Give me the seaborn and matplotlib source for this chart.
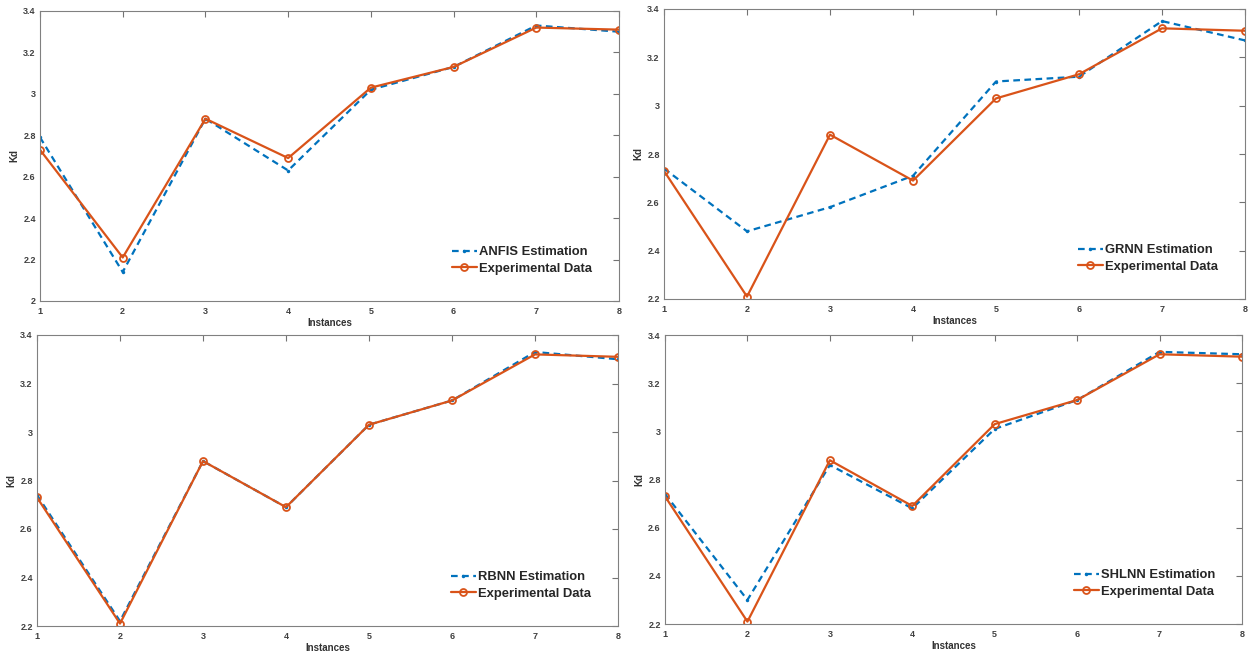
import numpy as np
import pandas as pd
import matplotlib
matplotlib.use("Agg")
import matplotlib.pyplot as plt
import seaborn as sns
from matplotlib.ticker import FuncFormatter

sns.set_style("white")
plt.rcParams['font.family'] = ['Liberation Sans', 'DejaVu Sans']

instances = [1, 2, 3, 4, 5, 6, 7, 8]
experimental = [2.73, 2.21, 2.88, 2.69, 3.03, 3.13, 3.32, 3.31]
anfis = [2.79, 2.14, 2.88, 2.63, 3.02, 3.13, 3.33, 3.30]
grnn = [2.74, 2.48, 2.58, 2.71, 3.10, 3.12, 3.35, 3.27]
rbnn = [2.74, 2.22, 2.88, 2.69, 3.03, 3.13, 3.33, 3.30]
shlnn = [2.74, 2.30, 2.86, 2.68, 3.01, 3.13, 3.33, 3.32]

model_names = ["ANFIS", "GRNN", "RBNN", "SHLNN"]
model_values = [anfis, grnn, rbnn, shlnn]
y_limits = [(2.0, 3.4), (2.2, 3.4), (2.2, 3.4), (2.2, 3.4)]

W, H = 1248, 654
fig = plt.figure(figsize=(W / 100, H / 100), dpi=100)

# pixel boxes (left, top, right, bottom)
boxes = [(40, 11, 619, 301), (664, 9, 1245, 299), (37, 335, 618, 626), (665, 335, 1242, 624)]

blue = "#0072BD"
orange = "#D95319"
fmt = FuncFormatter(lambda v, p: f"{v:g}")

for name, vals, ylim, (l, t, r, b) in zip(model_names, model_values, y_limits, boxes):
    ax = fig.add_axes([l / W, 1 - b / H, (r - l) / W, (b - t) / H])
    sns.lineplot(x=instances, y=vals, ax=ax, color=blue, linestyle=(0, (3, 2)), lw=1.6,
                 marker='.', markersize=5, markeredgewidth=0, label=f"{name} Estimation")
    sns.lineplot(x=instances, y=experimental, ax=ax, color=orange, lw=1.6,
                 marker='o', markersize=5, markerfacecolor='none', markeredgecolor=orange,
                 markeredgewidth=1.3, label="Experimental Data")
    ax.set_xlim(1, 8)
    ax.set_ylim(*ylim)
    ax.set_xticks(instances)
    ax.set_yticks(np.arange(ylim[0], 3.4001, 0.2))
    ax.yaxis.set_major_formatter(fmt)
    ax.tick_params(direction='in', length=4, width=0.8, colors='0.45', labelcolor='0.25',
                   labelsize=6.5, top=True, right=True, pad=3)
    ax.tick_params(axis='x', pad=4)
    for lab in ax.get_xticklabels() + ax.get_yticklabels():
        lab.set_fontweight('bold')
    for s in ax.spines.values():
        s.set_color('0.5')
        s.set_linewidth(0.8)
    ax.set_xlabel("Instances", fontsize=7, fontweight='bold', color='0.2', labelpad=2)
    ax.set_ylabel("Kd", fontsize=7, fontweight='bold', color='0.2', labelpad=3)
    ax.legend(loc='lower right', bbox_to_anchor=(0.962, 0.072), frameon=False,
              prop={'size': 9.4, 'weight': 'bold'}, handlelength=1.9, handletextpad=0.15,
              labelspacing=0.35, borderaxespad=0)

fig.savefig("out.png", dpi=100, facecolor='white')
